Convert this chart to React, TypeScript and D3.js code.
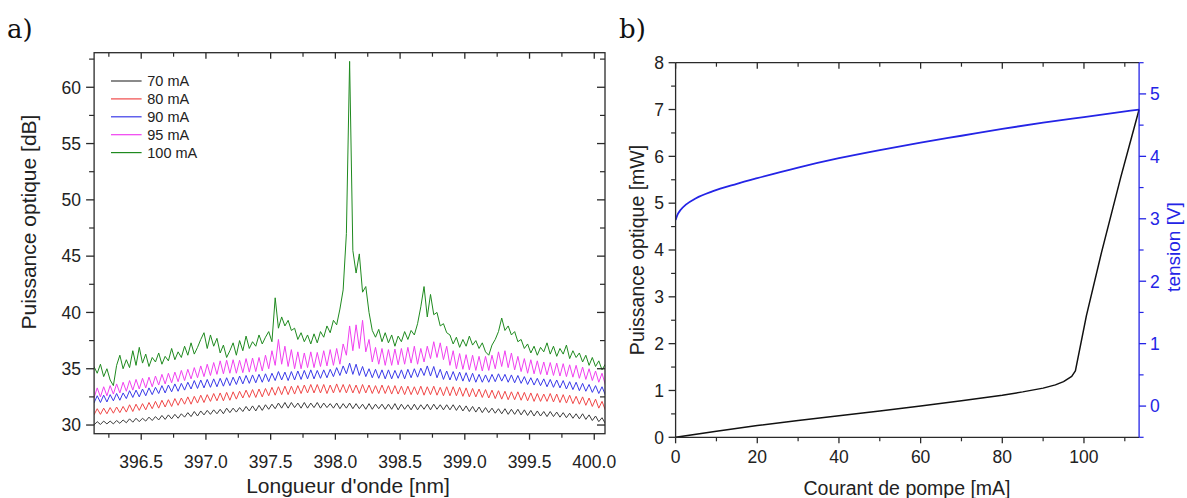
import React from "react";
import * as d3 from "d3";

// ---------- Panel a) : spectra ----------
const LAMBDA_START = 396.135;
const LAMBDA_STEP = 0.025;

const spec70 = [
  30.0, 30.3, 30.05, 30.35, 30.1, 30.35, 30.1, 30.4, 30.15, 30.45,
  30.2, 30.55, 30.25, 30.6, 30.3, 30.6, 30.35, 30.7, 30.4, 30.75,
  30.45, 30.85, 30.5, 30.9, 30.55, 30.95, 30.6, 31.0, 30.7, 31.1,
  30.75, 31.2, 30.8, 31.25, 30.9, 31.3, 30.95, 31.35, 31.0, 31.4,
  31.0, 31.5, 31.1, 31.5, 31.15, 31.55, 31.2, 31.65, 31.25, 31.7,
  31.25, 31.75, 31.3, 31.8, 31.4, 31.85, 31.45, 31.95, 31.5, 32.0,
  31.5, 32.0, 31.55, 31.95, 31.5, 32.0, 31.5, 31.95, 31.55, 32.0,
  31.5, 31.95, 31.55, 31.9, 31.5, 31.95, 31.45, 31.9, 31.5, 31.95,
  31.45, 31.9, 31.45, 31.85, 31.4, 31.9, 31.4, 31.85, 31.45, 31.85,
  31.4, 31.85, 31.4, 31.9, 31.35, 31.85, 31.4, 31.8, 31.35, 31.85,
  31.35, 31.8, 31.4, 31.85, 31.35, 31.85, 31.4, 31.8, 31.35, 31.8,
  31.35, 31.8, 31.3, 31.75, 31.25, 31.7, 31.2, 31.65, 31.15, 31.6,
  31.1, 31.55, 31.1, 31.5, 31.05, 31.45, 31.0, 31.45, 30.95, 31.4,
  30.95, 31.4, 30.9, 31.35, 30.85, 31.3, 30.8, 31.25, 30.8, 31.2,
  30.75, 31.2, 30.75, 31.15, 30.7, 31.1, 30.65, 31.05, 30.6, 31.0,
  30.55, 31.0, 30.5, 30.9, 30.4, 30.8, 30.3, 30.65, 30.15, 30.5,
];

const spec80 = [
  30.9, 31.45, 30.95, 31.5, 31.0, 31.55, 31.05, 31.6, 31.1, 31.65,
  31.15, 31.8, 31.2, 31.85, 31.3, 31.9, 31.35, 32.0, 31.45, 32.1,
  31.5, 32.2, 31.6, 32.25, 31.65, 32.35, 31.75, 32.4, 31.85, 32.5,
  31.85, 32.55, 31.95, 32.65, 32.0, 32.7, 32.1, 32.8, 32.15, 32.85,
  32.15, 32.9, 32.2, 32.95, 32.3, 33.0, 32.4, 33.1, 32.45, 33.15,
  32.45, 33.2, 32.5, 33.25, 32.6, 33.35, 32.65, 33.4, 32.7, 33.45,
  32.7, 33.45, 32.75, 33.5, 32.8, 33.55, 32.85, 33.6, 32.85, 33.6,
  32.85, 33.6, 32.8, 33.55, 32.85, 33.65, 32.9, 33.6, 32.85, 33.6,
  32.85, 33.55, 32.8, 33.6, 32.85, 33.55, 32.8, 33.5, 32.8, 33.55,
  32.8, 33.5, 32.75, 33.5, 32.75, 33.45, 32.7, 33.45, 32.7, 33.4,
  32.7, 33.45, 32.65, 33.4, 32.7, 33.45, 32.65, 33.35, 32.6, 33.4,
  32.6, 33.4, 32.6, 33.35, 32.55, 33.3, 32.5, 33.25, 32.5, 33.2,
  32.45, 33.15, 32.4, 33.1, 32.35, 33.05, 32.3, 33.0, 32.25, 32.95,
  32.25, 32.95, 32.2, 32.9, 32.15, 32.85, 32.1, 32.8, 32.1, 32.75,
  32.1, 32.8, 32.05, 32.75, 32.0, 32.7, 31.95, 32.65, 31.9, 32.55,
  31.85, 32.5, 31.75, 32.4, 31.65, 32.3, 31.5, 32.1, 31.35, 31.9,
];

const spec90 = [
  31.95, 32.6, 32.0, 32.65, 32.05, 32.7, 32.15, 32.8, 32.2, 32.85,
  32.35, 33.05, 32.45, 33.1, 32.5, 33.2, 32.6, 33.3, 32.7, 33.35,
  32.8, 33.5, 32.85, 33.55, 32.95, 33.65, 33.0, 33.7, 33.1, 33.8,
  33.2, 33.95, 33.25, 34.0, 33.3, 34.05, 33.35, 34.1, 33.4, 34.15,
  33.45, 34.2, 33.5, 34.25, 33.6, 34.35, 33.65, 34.4, 33.7, 34.45,
  33.75, 34.5, 33.8, 34.55, 33.85, 34.6, 33.95, 34.75, 34.0, 34.7,
  33.95, 34.75, 34.0, 34.8, 34.05, 34.85, 34.1, 34.9, 34.1, 34.85,
  34.15, 34.9, 34.2, 34.95, 34.3, 35.1, 34.4, 35.25, 34.55, 35.5,
  34.5, 35.4, 34.4, 35.2, 34.3, 35.0, 34.2, 34.95, 34.15, 34.9,
  34.1, 34.9, 34.1, 34.85, 34.15, 34.9, 34.1, 34.95, 34.2, 35.0,
  34.25, 35.05, 34.4, 35.25, 34.35, 35.2, 34.2, 34.95, 34.05, 34.8,
  34.0, 34.75, 33.95, 34.7, 33.9, 34.65, 33.85, 34.6, 33.8, 34.5,
  33.8, 34.45, 33.8, 34.5, 33.85, 34.55, 33.9, 34.5, 33.8, 34.45,
  33.75, 34.4, 33.7, 34.3, 33.6, 34.2, 33.55, 34.15, 33.5, 34.1,
  33.4, 34.05, 33.35, 34.0, 33.3, 33.95, 33.2, 33.85, 33.15, 33.8,
  33.05, 33.7, 33.0, 33.6, 32.9, 33.5, 32.8, 33.4, 32.7, 33.25,
];

const spec95 = [
  32.4, 33.3, 32.5, 33.4, 32.6, 33.5, 32.75, 33.65, 32.85, 33.8,
  33.0, 33.95, 33.1, 34.05, 33.2, 34.15, 33.3, 34.25, 33.4, 34.35,
  33.55, 34.5, 33.65, 34.6, 33.75, 34.7, 33.85, 34.85, 33.95, 34.95,
  34.1, 35.1, 34.2, 35.25, 34.3, 35.4, 34.4, 35.55, 34.5, 35.7,
  34.55, 35.75, 34.6, 35.8, 34.6, 35.75, 34.65, 35.9, 34.7, 35.95,
  34.75, 36.0, 34.8, 36.2, 35.0, 36.6, 35.3, 37.6, 35.4, 37.0,
  35.2, 36.7, 35.0, 36.5, 35.0, 36.4, 35.1, 36.5, 35.1, 36.45,
  35.2, 36.6, 35.25, 36.7, 35.3, 36.8, 35.4, 37.2, 36.2, 38.8,
  36.6, 38.9, 36.8, 39.3, 36.5, 37.6, 35.6, 36.9, 35.4, 36.8,
  35.3, 36.7, 35.3, 36.75, 35.35, 36.8, 35.4, 36.9, 35.5, 37.0,
  35.4, 36.8, 35.6, 37.0, 35.9, 37.4, 36.0, 37.3, 35.8, 37.0,
  35.3, 36.6, 35.0, 36.35, 34.95, 36.25, 34.9, 36.2, 34.85, 36.1,
  34.8, 36.1, 34.85, 36.2, 35.0, 36.5, 35.2, 36.6, 35.1, 36.4,
  34.9, 36.1, 34.75, 35.9, 34.6, 35.8, 34.55, 35.7, 34.5, 35.6,
  34.45, 35.55, 34.4, 35.5, 34.35, 35.45, 34.3, 35.35, 34.25, 35.3,
  34.15, 35.15, 34.05, 35.0, 33.95, 34.8, 33.8, 34.6, 33.6, 34.3,
];

const spec100 = [
  35.2, 34.6, 35.4, 34.3, 35.0, 34.0, 33.5, 35.3, 36.2, 35.0,
  35.8, 35.1, 36.6, 35.3, 36.9, 35.5, 36.3, 35.2, 36.0, 35.6,
  36.4, 35.4, 36.1, 35.7, 36.8, 35.8, 36.5, 36.0, 37.0, 36.2,
  37.3, 36.3, 36.9, 37.6, 38.2, 36.8, 38.0, 37.0, 37.7, 36.4,
  37.1, 36.0, 36.6, 37.3, 36.2, 37.5, 36.6, 37.9, 36.8, 37.4,
  37.0, 38.0, 37.2, 37.8, 38.3, 37.4, 41.3, 38.6, 39.6, 38.8,
  39.3, 38.4, 38.6, 37.6, 38.2, 37.4, 38.0, 37.2, 38.1, 37.3,
  38.3, 37.8, 38.8, 38.2, 39.3, 38.9, 40.3, 42.0, 47.0, 62.3,
  45.5, 43.5, 45.2, 41.8, 42.3, 40.0, 38.4, 37.8, 38.5, 37.4,
  38.2, 37.3, 38.0, 37.0, 37.9, 37.4, 38.3, 37.6, 38.4, 38.0,
  39.0, 40.5, 42.3, 39.6, 41.6, 39.8, 40.0, 38.8, 39.0, 38.2,
  38.0, 37.2, 37.8, 36.9, 37.6, 37.0, 37.9, 37.1, 37.5, 36.8,
  37.3, 36.5, 36.2, 37.1, 37.6, 38.3, 39.5, 38.4, 38.8, 38.0,
  38.3, 37.4, 37.6, 36.8, 37.2, 36.4, 37.0, 36.2, 36.9, 36.5,
  37.3, 36.3, 37.0, 36.1, 36.8, 36.3, 37.1, 35.9, 36.6, 36.0,
  36.4, 35.6, 36.2, 35.3, 36.0, 35.2, 35.7, 34.9, 35.4, 35.0,
];

const specLabels = ["70 mA", "80 mA", "90 mA", "95 mA", "100 mA"];
const specColors = ["#3c3c3c", "#f04848", "#3a3ae8", "#f040f0", "#1f8a1f"];
const specValues = [spec70, spec80, spec90, spec95, spec100];

const lambdaTicks = [396.5, 397.0, 397.5, 398.0, 398.5, 399.0, 399.5, 400.0];
const lambdaMinor = [396.25, 396.75, 397.25, 397.75, 398.25, 398.75, 399.25, 399.75];
const dbTicks = [30, 35, 40, 45, 50, 55, 60];
const dbMinor = [32.5, 37.5, 42.5, 47.5, 52.5, 57.5, 62.5];

// ---------- Panel b) : L-I-V ----------
const currentP = [0, 10, 20, 30, 40, 50, 60, 70, 80, 85, 90, 93, 95, 97, 97.9, 100.6, 104.3, 109, 113.5];
const powerMw = [0, 0.13, 0.25, 0.36, 0.46, 0.56, 0.67, 0.78, 0.9, 0.97, 1.05, 1.12, 1.19, 1.3, 1.42, 2.6, 3.95, 5.55, 7.0];
const currentV = [0, 0.5, 1.2, 2.6, 5, 9, 15, 20, 30, 40, 50, 60, 70, 80, 90, 100, 113.5];
const voltageV = [2.98, 3.07, 3.14, 3.23, 3.33, 3.44, 3.56, 3.65, 3.82, 3.97, 4.1, 4.22, 4.33, 4.44, 4.54, 4.63, 4.75];

const mATicks = [0, 20, 40, 60, 80, 100];
const mAMinor = [10, 30, 50, 70, 90, 110];
const mWTicks = [0, 1, 2, 3, 4, 5, 6, 7, 8];
const mWMinor = [0.5, 1.5, 2.5, 3.5, 4.5, 5.5, 6.5, 7.5];
const vTicks = [0, 1, 2, 3, 4, 5];
const vMinor = [-0.5, 0.5, 1.5, 2.5, 3.5, 4.5, 5.5];

const SANS = "'Liberation Sans', Arial, Helvetica, sans-serif";
const AXIS = "#2a2a2a";
const BLUE = "#2424e6";

export default function App() {
  // panel a geometry
  const aL = 94.1, aR = 605, aT = 52.7, aB = 433.7;
  const xL = d3.scaleLinear().domain([396.136, 400.083]).range([aL, aR]);
  const yL = d3.scaleLinear().domain([29.23, 63.07]).range([aB, aT]);

  // panel b geometry
  const bL = 675.6, bR = 1139.1, bT = 62.7, bB = 437.3;
  const xR = d3.scaleLinear().domain([0, 113.5]).range([bL, bR]);
  const yR = d3.scaleLinear().domain([0, 8]).range([bB, bT]);
  const yV = d3.scaleLinear().domain([-0.5, 5.5]).range([bB, bT]);

  const specLine = d3
    .line<number>()
    .x((_, i) => xL(LAMBDA_START + i * LAMBDA_STEP))
    .y((v) => yL(v));

  const pLine = d3
    .line<number>()
    .x((_, i) => xR(currentP[i]))
    .y((v) => yR(v));
  const vLine = d3
    .line<number>()
    .x((_, i) => xR(currentV[i]))
    .y((v) => yV(v))
    .curve(d3.curveMonotoneX);

  const legendY0 = 81;
  const legendDy = 17.9;

  return (
    <svg
      width={1187}
      height={498}
      style={{ position: "absolute", left: 0, top: 0, background: "#fff" }}
      fontFamily={SANS}
    >
      <rect x={0} y={0} width={1187} height={498} fill="#fff" />
      <defs>
        <clipPath id="clipA">
          <rect x={aL} y={aT} width={aR - aL} height={aB - aT} />
        </clipPath>
        <clipPath id="clipB">
          <rect x={bL} y={bT - 2} width={bR - bL + 2} height={bB - bT + 2} />
        </clipPath>
      </defs>

      {/* panel labels */}
      <text x={7} y={38} fontFamily="'DejaVu Serif', 'Liberation Serif', serif" fontSize={26} fill="#111">
        a)
      </text>
      <text x={619} y={38} fontFamily="'DejaVu Serif', 'Liberation Serif', serif" fontSize={26} fill="#111">
        b)
      </text>

      {/* ---------- Panel a ---------- */}
      <g clipPath="url(#clipA)">
        {specValues.map((vals, k) => (
          <path key={k} d={specLine(vals) || ""} fill="none" stroke={specColors[k]} strokeWidth={1} strokeLinejoin="round" />
        ))}
      </g>
      <rect x={aL} y={aT} width={aR - aL} height={aB - aT} fill="none" stroke={AXIS} strokeWidth={1.3} />
      {lambdaTicks.map((v) => (
        <g key={"lt" + v}>
          <line x1={xL(v)} x2={xL(v)} y1={aB} y2={aB + 6} stroke={AXIS} strokeWidth={1.3} />
          <line x1={xL(v)} x2={xL(v)} y1={aT} y2={aT + 6} stroke={AXIS} strokeWidth={1.3} />
          <text x={xL(v)} y={468} fontSize={17.5} textAnchor="middle" fill="#222">
            {v.toFixed(1)}
          </text>
        </g>
      ))}
      {lambdaMinor.map((v) => (
        <g key={"lm" + v}>
          <line x1={xL(v)} x2={xL(v)} y1={aB} y2={aB + 4} stroke={AXIS} strokeWidth={1.2} />
          <line x1={xL(v)} x2={xL(v)} y1={aT} y2={aT + 4} stroke={AXIS} strokeWidth={1.2} />
        </g>
      ))}
      {dbTicks.map((v) => (
        <g key={"dt" + v}>
          <line x1={aL - 8} x2={aL} y1={yL(v)} y2={yL(v)} stroke={AXIS} strokeWidth={1.3} />
          <line x1={aR - 8} x2={aR} y1={yL(v)} y2={yL(v)} stroke={AXIS} strokeWidth={1.3} />
          <text x={81} y={yL(v) + 6.3} fontSize={17.5} textAnchor="end" fill="#222">
            {v}
          </text>
        </g>
      ))}
      {dbMinor.map((v) => (
        <g key={"dm" + v}>
          <line x1={aL - 5} x2={aL} y1={yL(v)} y2={yL(v)} stroke={AXIS} strokeWidth={1.2} />
          <line x1={aR - 5} x2={aR} y1={yL(v)} y2={yL(v)} stroke={AXIS} strokeWidth={1.2} />
        </g>
      ))}
      <text x={348} y={493} fontSize={21} textAnchor="middle" fill="#222">
        Longueur d'onde [nm]
      </text>
      <text transform={`translate(36,222) rotate(-90)`} fontSize={21} textAnchor="middle" fill="#222">
        Puissance optique [dB]
      </text>
      {specLabels.map((lab, k) => (
        <g key={"lg" + k}>
          <line x1={111} x2={141.6} y1={legendY0 + k * legendDy} y2={legendY0 + k * legendDy} stroke={specColors[k]} strokeWidth={1.2} />
          <text x={147.3} y={legendY0 + k * legendDy + 5} fontSize={14.5} fill="#222">
            {lab}
          </text>
        </g>
      ))}

      {/* ---------- Panel b ---------- */}
      <g clipPath="url(#clipB)">
        <path d={vLine(voltageV) || ""} fill="none" stroke={BLUE} strokeWidth={1.8} />
        <path d={pLine(powerMw) || ""} fill="none" stroke="#111" strokeWidth={1.5} strokeLinejoin="round" />
      </g>
      <line x1={bL} x2={bR} y1={bT} y2={bT} stroke={AXIS} strokeWidth={1.3} />
      <line x1={bL} x2={bR} y1={bB} y2={bB} stroke={AXIS} strokeWidth={1.3} />
      <line x1={bL} x2={bL} y1={bT} y2={bB} stroke={AXIS} strokeWidth={1.3} />
      <line x1={bR} x2={bR} y1={bT} y2={bB} stroke={BLUE} strokeWidth={1.3} />
      {mATicks.map((v) => (
        <g key={"mt" + v}>
          <line x1={xR(v)} x2={xR(v)} y1={bB} y2={bB + 6} stroke={AXIS} strokeWidth={1.3} />
          <line x1={xR(v)} x2={xR(v)} y1={bT} y2={bT + 6} stroke={AXIS} strokeWidth={1.3} />
          <text x={xR(v)} y={463} fontSize={17.5} textAnchor="middle" fill="#222">
            {v}
          </text>
        </g>
      ))}
      {mAMinor.map((v) => (
        <g key={"mm" + v}>
          <line x1={xR(v)} x2={xR(v)} y1={bB} y2={bB + 4} stroke={AXIS} strokeWidth={1.2} />
          <line x1={xR(v)} x2={xR(v)} y1={bT} y2={bT + 4} stroke={AXIS} strokeWidth={1.2} />
        </g>
      ))}
      {mWTicks.map((v) => (
        <g key={"wt" + v}>
          <line x1={bL - 7} x2={bL} y1={yR(v)} y2={yR(v)} stroke={AXIS} strokeWidth={1.3} />
          <text x={664} y={yR(v) + 6.3} fontSize={17.5} textAnchor="end" fill="#222">
            {v}
          </text>
        </g>
      ))}
      {mWMinor.map((v) => (
        <line key={"wm" + v} x1={bL - 4.5} x2={bL} y1={yR(v)} y2={yR(v)} stroke={AXIS} strokeWidth={1.2} />
      ))}
      {vTicks.map((v) => (
        <g key={"vt" + v}>
          <line x1={bR} x2={bR + 7} y1={yV(v)} y2={yV(v)} stroke={BLUE} strokeWidth={1.3} />
          <text x={1150} y={yV(v) + 6.3} fontSize={17.5} textAnchor="start" fill={BLUE}>
            {v}
          </text>
        </g>
      ))}
      {vMinor.map((v) => (
        <line key={"vm" + v} x1={bR} x2={bR + 4.5} y1={yV(v)} y2={yV(v)} stroke={BLUE} strokeWidth={1.2} />
      ))}
      <text x={907} y={495} fontSize={19.5} textAnchor="middle" fill="#222">
        Courant de pompe [mA]
      </text>
      <text transform={`translate(644,250) rotate(-90)`} fontSize={19.5} textAnchor="middle" fill="#222">
        Puissance optique [mW]
      </text>
      <text transform={`translate(1180,247) rotate(-90)`} fontSize={19} textAnchor="middle" fill={BLUE}>
        tension [V]
      </text>
    </svg>
  );
}
